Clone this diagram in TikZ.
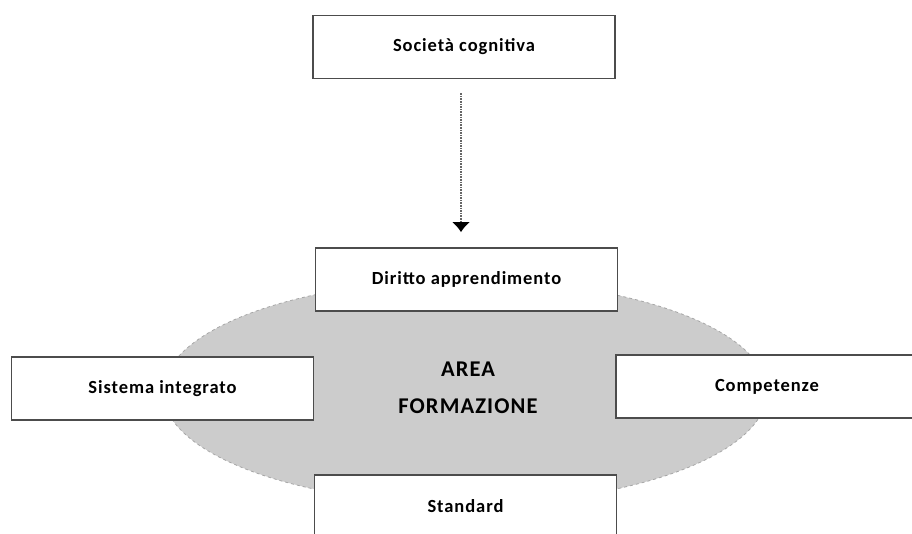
\documentclass[tikz,border=0pt]{standalone}
\usepackage{fontspec}
\setmainfont{Carlito}[LetterSpace=5]
\usepackage{tikz}
\usetikzlibrary{shapes.geometric,arrows.meta}

\tikzset{
  areabox/.style={draw=black!70,line width=1.6pt,fill=white,
    minimum width=302pt,minimum height=63pt,inner sep=0pt,
    font=\fontsize{18.5}{22}\selectfont\bfseries},
}

\begin{document}
\begin{tikzpicture}[x=1pt,y=-1pt]
  \useasboundingbox (0,0) rectangle (912,534);
  \clip (0,0) rectangle (912,534);
  \node[ellipse,fill=black!20,draw=black!35,line width=0.8pt,dashed,
    minimum width=604pt,minimum height=224pt] (area) at (465,392) {};
  \node[font=\fontsize{22.5}{37}\selectfont\bfseries,align=center]
    (areatext) at (468,388) {AREA\\FORMAZIONE};
  \node[areabox] (societa) at (464,47) {Società cognitiva};
  \node[areabox] (diritto) at (466.5,279.5) {Diritto apprendimento};
  \node[areabox] (sistema) at (162.5,388.5) {Sistema integrato};
  \node[areabox] (competenze) at (767,386.5) {Competenze};
  \node[areabox] (standard) at (465.5,506.5) {Standard};
  \draw[black!60,line width=1.6pt,densely dotted,shorten <=14pt,shorten >=15pt,
    -{Latex[black,length=10pt,width=18pt]}]
    ([xshift=-3pt]societa.south) -- ([xshift=-5.5pt]diritto.north);
\end{tikzpicture}
\end{document}
